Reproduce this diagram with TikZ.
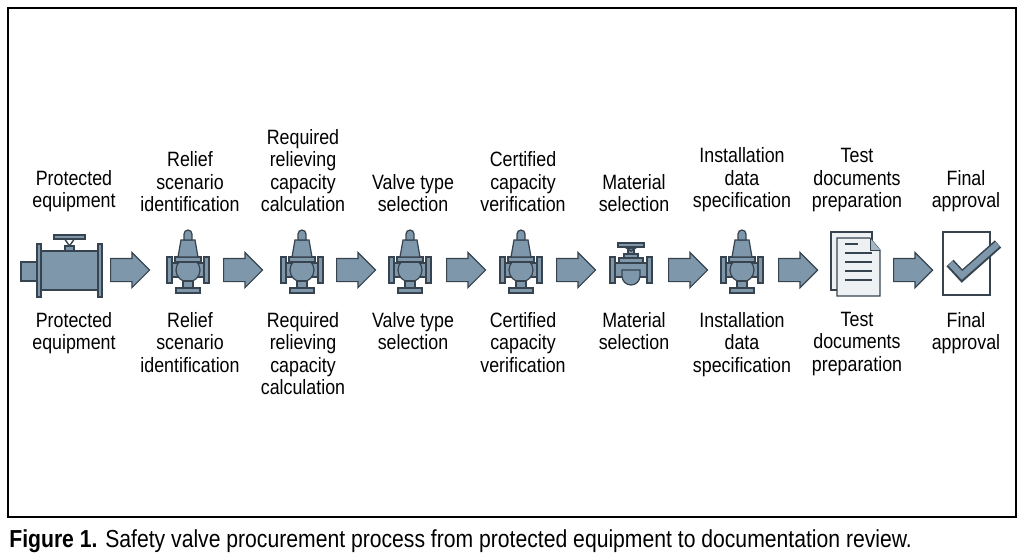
\documentclass[tikz,border=0pt]{standalone}
\usepackage{fontspec}
\setmainfont[FakeStretch=0.86]{Liberation Sans}
\usetikzlibrary{positioning, shapes.geometric, shapes.arrows, arrows.meta}
\definecolor{steel}{HTML}{7F97AB}
\definecolor{ink}{HTML}{37444F}
\definecolor{paper}{HTML}{EEF1F4}
% relief valve icon at (#1,#2)
\newcommand{\reliefvalve}[2]{
  \begin{scope}[shift={(#1,#2)}, part/.style={fill=steel, draw=ink, line width=0.7pt}]
    \draw[part] (-16,-7) rectangle (16,7);
    \draw[part] (0,0) circle (12);
    \draw[part] (-5,11) rectangle (5,18);
    \draw[part] (-12,18) rectangle (12,23);
    \draw[part] (-21,-13) rectangle (-16,13);
    \draw[part] (16,-13) rectangle (21,13);
    \draw[part] (-13,-13) rectangle (13,-8);
    \draw[part] (-7,-30) -- (7,-30) -- (10,-13) -- (-10,-13) -- cycle;
    \draw[part] (-4,-30) -- (-4,-36) arc (180:360:4) -- (4,-30) -- cycle;
  \end{scope}}
% globe valve icon at (#1,#2)
\newcommand{\globevalve}[2]{
  \begin{scope}[shift={(#1,#2)}, part/.style={fill=steel, draw=ink, line width=0.7pt}]
    \draw[part] (-16,-7) rectangle (16,7);
    \draw[part] (-9,0) -- (-9,6) arc (180:0:9) -- (9,0) -- cycle;
    \draw[part] (-21,-13) rectangle (-16,13);
    \draw[part] (16,-13) rectangle (21,13);
    \draw[part] (-12,-12) rectangle (12,-7);
    \draw[part] (-7,-16) rectangle (7,-12);
    \draw[part] (-3,-22) rectangle (3,-16);
    \draw[part] (-13,-27) rectangle (13,-23);
    \draw[ink, line width=0.8pt] (-6,-23) -- (0,-19) -- (6,-23);
  \end{scope}}
\begin{document}
\begin{tikzpicture}[x=0.02cm, y=-0.02cm,
  lbl/.style={align=center, font=\fontsize{11.8}{12.7}\selectfont, inner sep=0pt},
  toplbl/.style={lbl, anchor=south},
  botlbl/.style={lbl, anchor=north},
  flowarrow/.style={single arrow, fill=steel, draw=ink, line width=0.7pt, minimum height=0.78cm,
    inner xsep=0pt, inner ysep=0.22cm, single arrow head extend=0.12cm},
  part/.style={fill=steel, draw=ink, line width=0.7pt}]
  \useasboundingbox (0,0) rectangle (1024,559);
  \draw[line width=0.6pt] (8,8) rectangle (1016,517);

  % top labels
  \node[toplbl] (t1) at (74,212) {Protected\\equipment};
  \node[toplbl] (t2) at (190,212) {Relief\\scenario\\identification};
  \node[toplbl] (t3) at (303,212) {Required\\relieving\\capacity\\calculation};
  \node[toplbl] (t4) at (413,212) {Valve type\\selection};
  \node[toplbl] (t5) at (523,212) {Certified\\capacity\\verification};
  \node[toplbl] (t6) at (634,212) {Material\\selection};
  \node[toplbl] (t7) at (742,212) {Installation\\data\\specification};
  \node[toplbl] (t8) at (857,212) {Test\\documents\\preparation};
  \node[toplbl] (t9) at (966,212) {Final\\approval};

  % bottom labels
  \node[botlbl] (b1) at (74,312) {Protected\\equipment};
  \node[botlbl] (b2) at (190,312) {Relief\\scenario\\identification};
  \node[botlbl] (b3) at (303,312) {Required\\relieving\\capacity\\calculation};
  \node[botlbl] (b4) at (413,312) {Valve type\\selection};
  \node[botlbl] (b5) at (523,312) {Certified\\capacity\\verification};
  \node[botlbl] (b6) at (634,312) {Material\\selection};
  \node[botlbl] (b7) at (742,312) {Installation\\data\\specification};
  \node[botlbl] (b8) at (857,312) {Test\\documents\\preparation};
  \node[botlbl] (b9) at (966,312) {Final\\approval};

  % protected equipment
  \draw[part] (21,262) rectangle (37,281);
  \draw[part] (40,251) rectangle (99,290);
  \draw[part] (37,244) rectangle (41,297);
  \draw[part] (98,244) rectangle (102,297);
  \draw[part] (65,246) rectangle (74,251);
  \draw[ink, line width=0.8pt] (64,238) -- (69.5,246) -- (75,238);
  \draw[part] (54,235) rectangle (85,239);

  % valves
  \reliefvalve{188}{270}
  \reliefvalve{302}{270}
  \reliefvalve{410}{270}
  \reliefvalve{521}{270}
  \globevalve{631}{270}
  \reliefvalve{742}{270}

  % documents
  \draw[fill=paper, draw=ink, line width=0.6pt] (831,232) rectangle (872,290);
  \draw[fill=paper, draw=ink, line width=0.6pt] (837,238) -- (870,238) -- (880,250) -- (880,296) -- (837,296) -- cycle;
  \draw[fill=steel!70, draw=ink, line width=0.5pt] (870,238) -- (870,250) -- (880,250);
  \foreach \yy in {253,262,271,280} \draw[ink, line width=0.7pt] (845,\yy) -- (872,\yy);
  \draw[ink, line width=0.7pt] (845,244) -- (858,244);

  % approval box
  \draw[fill=white, draw=ink, line width=0.6pt] (943,232) rectangle (990,295);
  \draw[ink, line width=5.5pt, line join=miter] (950,263) -- (962,276) -- (998,244);
  \draw[steel, line width=3.5pt, line join=miter] (950.5,263.3) -- (962,275.5) -- (997.5,244.2);

  % step arrows
  \foreach \xx [count=\i] in {130,243,356,466,576,688,798,913}
    \node[flowarrow, anchor=west] (a\i) at (\xx-20,270) {};

  \node[anchor=base west, inner sep=0pt, font=\fontsize{14}{16}\selectfont] (cap) at (9,547)
    {\textbf{Figure 1.} Safety valve procurement process from protected equipment to documentation review.};
\end{tikzpicture}
\end{document}
